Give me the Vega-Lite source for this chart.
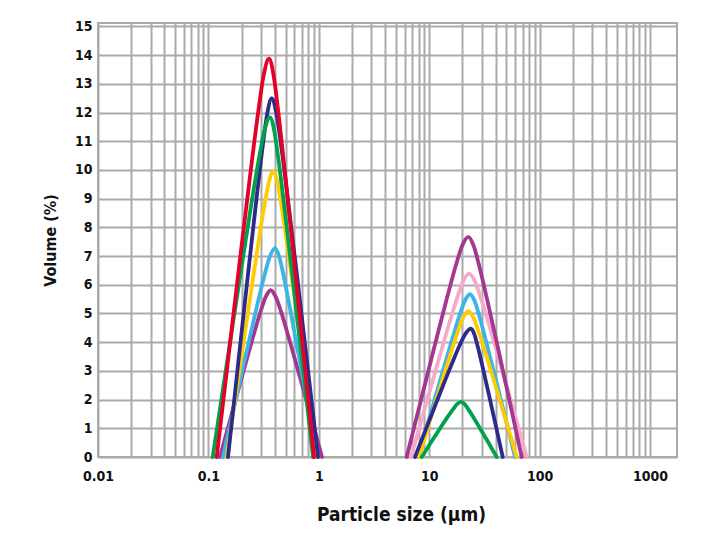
{
  "$schema": "https://vega.github.io/schema/vega-lite/v6.json",
  "width": 579,
  "height": 434,
  "autosize": {"type": "none"},
  "padding": {"left": 98, "top": 23, "right": 49, "bottom": 98},
  "background": "white",
  "config": {
    "view": {"stroke": "#aaaaaa", "strokeWidth": 2},
    "font": "DejaVu Sans Condensed"
  },
  "data": {"values": [
    {"series":"S7","peak":2,"size":6.842,"volume":0},{"series":"S7","peak":2,"size":7.722,"volume":0.71},{"series":"S7","peak":2,"size":9.258,"volume":1.78},{"series":"S7","peak":2,"size":11.79,"volume":3.20},{"series":"S7","peak":2,"size":15.02,"volume":4.59},{"series":"S7","peak":2,"size":18.01,"volume":5.57},{"series":"S7","peak":2,"size":20.33,"volume":6.13},{"series":"S7","peak":2,"size":22.94,"volume":6.39},{"series":"S7","peak":2,"size":25.87,"volume":6.13},{"series":"S7","peak":2,"size":29.18,"volume":5.57},{"series":"S7","peak":2,"size":34.96,"volume":4.59},{"series":"S7","peak":2,"size":44.47,"volume":3.20},{"series":"S7","peak":2,"size":56.57,"volume":1.78},{"series":"S7","peak":2,"size":67.76,"volume":0.71},{"series":"S7","peak":2,"size":76.42,"volume":0},

    {"series":"S6","peak":1,"size":0.1274,"volume":0},{"series":"S6","peak":1,"size":0.1416,"volume":0.65},{"series":"S6","peak":1,"size":0.1659,"volume":1.62},{"series":"S6","peak":1,"size":0.2050,"volume":2.91},{"series":"S6","peak":1,"size":0.2533,"volume":4.17},{"series":"S6","peak":1,"size":0.2968,"volume":5.07},{"series":"S6","peak":1,"size":0.3299,"volume":5.57},{"series":"S6","peak":1,"size":0.3667,"volume":5.81},{"series":"S6","peak":1,"size":0.4081,"volume":5.57},{"series":"S6","peak":1,"size":0.4542,"volume":5.07},{"series":"S6","peak":1,"size":0.5334,"volume":4.17},{"series":"S6","peak":1,"size":0.6606,"volume":2.91},{"series":"S6","peak":1,"size":0.8183,"volume":1.62},{"series":"S6","peak":1,"size":0.9607,"volume":0.65},{"series":"S6","peak":1,"size":1.0691,"volume":0},
    {"series":"S6","peak":2,"size":6.255,"volume":0},{"series":"S6","peak":2,"size":7.113,"volume":0.86},{"series":"S6","peak":2,"size":8.625,"volume":2.14},{"series":"S6","peak":2,"size":11.15,"volume":3.84},{"series":"S6","peak":2,"size":14.42,"volume":5.51},{"series":"S6","peak":2,"size":17.48,"volume":6.69},{"series":"S6","peak":2,"size":19.88,"volume":7.36},{"series":"S6","peak":2,"size":22.60,"volume":7.67},{"series":"S6","peak":2,"size":25.27,"volume":7.36},{"series":"S6","peak":2,"size":28.25,"volume":6.69},{"series":"S6","peak":2,"size":33.38,"volume":5.51},{"series":"S6","peak":2,"size":41.71,"volume":3.84},{"series":"S6","peak":2,"size":52.12,"volume":2.14},{"series":"S6","peak":2,"size":61.59,"volume":0.86},{"series":"S6","peak":2,"size":68.85,"volume":0},

    {"series":"S5","peak":1,"size":0.1356,"volume":0},{"series":"S5","peak":1,"size":0.1511,"volume":0.81},{"series":"S5","peak":1,"size":0.1778,"volume":2.03},{"series":"S5","peak":1,"size":0.2209,"volume":3.65},{"series":"S5","peak":1,"size":0.2744,"volume":5.23},{"series":"S5","peak":1,"size":0.3229,"volume":6.35},{"series":"S5","peak":1,"size":0.3599,"volume":6.98},{"series":"S5","peak":1,"size":0.4011,"volume":7.28},{"series":"S5","peak":1,"size":0.4378,"volume":6.98},{"series":"S5","peak":1,"size":0.4779,"volume":6.35},{"series":"S5","peak":1,"size":0.5450,"volume":5.23},{"series":"S5","peak":1,"size":0.6495,"volume":3.65},{"series":"S5","peak":1,"size":0.7738,"volume":2.03},{"series":"S5","peak":1,"size":0.8824,"volume":0.81},{"series":"S5","peak":1,"size":0.9632,"volume":0},
    {"series":"S5","peak":2,"size":7.967,"volume":0},{"series":"S5","peak":2,"size":8.874,"volume":0.63},{"series":"S5","peak":2,"size":10.43,"volume":1.58},{"series":"S5","peak":2,"size":12.94,"volume":2.84},{"series":"S5","peak":2,"size":16.06,"volume":4.07},{"series":"S5","peak":2,"size":18.88,"volume":4.95},{"series":"S5","peak":2,"size":21.03,"volume":5.44},{"series":"S5","peak":2,"size":23.42,"volume":5.67},{"series":"S5","peak":2,"size":25.73,"volume":5.44},{"series":"S5","peak":2,"size":28.26,"volume":4.95},{"series":"S5","peak":2,"size":32.53,"volume":4.07},{"series":"S5","peak":2,"size":39.24,"volume":2.84},{"series":"S5","peak":2,"size":47.35,"volume":1.58},{"series":"S5","peak":2,"size":54.50,"volume":0.63},{"series":"S5","peak":2,"size":59.87,"volume":0},

    {"series":"S4","peak":1,"size":0.1465,"volume":0},{"series":"S4","peak":1,"size":0.1614,"volume":1.11},{"series":"S4","peak":1,"size":0.1868,"volume":2.78},{"series":"S4","peak":1,"size":0.2268,"volume":4.98},{"series":"S4","peak":1,"size":0.2756,"volume":7.15},{"series":"S4","peak":1,"size":0.3187,"volume":8.68},{"series":"S4","peak":1,"size":0.3513,"volume":9.54},{"series":"S4","peak":1,"size":0.3871,"volume":9.95},{"series":"S4","peak":1,"size":0.4232,"volume":9.54},{"series":"S4","peak":1,"size":0.4626,"volume":8.68},{"series":"S4","peak":1,"size":0.5288,"volume":7.15},{"series":"S4","peak":1,"size":0.6319,"volume":4.98},{"series":"S4","peak":1,"size":0.7552,"volume":2.78},{"series":"S4","peak":1,"size":0.8630,"volume":1.11},{"series":"S4","peak":1,"size":0.9434,"volume":0},
    {"series":"S4","peak":2,"size":8.084,"volume":0},{"series":"S4","peak":2,"size":8.960,"volume":0.57},{"series":"S4","peak":2,"size":10.46,"volume":1.42},{"series":"S4","peak":2,"size":12.84,"volume":2.54},{"series":"S4","peak":2,"size":15.78,"volume":3.65},{"series":"S4","peak":2,"size":18.40,"volume":4.43},{"series":"S4","peak":2,"size":20.40,"volume":4.87},{"series":"S4","peak":2,"size":22.60,"volume":5.08},{"series":"S4","peak":2,"size":25.01,"volume":4.87},{"series":"S4","peak":2,"size":27.66,"volume":4.43},{"series":"S4","peak":2,"size":32.19,"volume":3.65},{"series":"S4","peak":2,"size":39.39,"volume":2.54},{"series":"S4","peak":2,"size":48.20,"volume":1.42},{"series":"S4","peak":2,"size":56.08,"volume":0.57},{"series":"S4","peak":2,"size":62.04,"volume":0},

    {"series":"S2","peak":1,"size":0.1505,"volume":0},{"series":"S2","peak":1,"size":0.1650,"volume":1.40},{"series":"S2","peak":1,"size":0.1889,"volume":3.49},{"series":"S2","peak":1,"size":0.2268,"volume":6.26},{"series":"S2","peak":1,"size":0.2722,"volume":8.97},{"series":"S2","peak":1,"size":0.3120,"volume":10.90},{"series":"S2","peak":1,"size":0.3418,"volume":11.98},{"series":"S2","peak":1,"size":0.3745,"volume":12.49},{"series":"S2","peak":1,"size":0.4124,"volume":11.98},{"series":"S2","peak":1,"size":0.4542,"volume":10.90},{"series":"S2","peak":1,"size":0.5250,"volume":8.97},{"series":"S2","peak":1,"size":0.6373,"volume":6.26},{"series":"S2","peak":1,"size":0.7722,"volume":3.49},{"series":"S2","peak":1,"size":0.8936,"volume":1.40},{"series":"S2","peak":1,"size":0.9834,"volume":0},
    {"series":"S2","peak":2,"size":7.438,"volume":0},{"series":"S2","peak":2,"size":8.359,"volume":0.50},{"series":"S2","peak":2,"size":9.960,"volume":1.25},{"series":"S2","peak":2,"size":12.58,"volume":2.24},{"series":"S2","peak":2,"size":15.89,"volume":3.21},{"series":"S2","peak":2,"size":18.93,"volume":3.90},{"series":"S2","peak":2,"size":21.28,"volume":4.29},{"series":"S2","peak":2,"size":23.92,"volume":4.47},{"series":"S2","peak":2,"size":25.55,"volume":4.29},{"series":"S2","peak":2,"size":27.30,"volume":3.90},{"series":"S2","peak":2,"size":30.15,"volume":3.21},{"series":"S2","peak":2,"size":34.41,"volume":2.24},{"series":"S2","peak":2,"size":39.27,"volume":1.25},{"series":"S2","peak":2,"size":43.36,"volume":0.50},{"series":"S2","peak":2,"size":46.33,"volume":0},

    {"series":"S3","peak":1,"size":0.1094,"volume":0},{"series":"S3","peak":1,"size":0.1233,"volume":1.32},{"series":"S3","peak":1,"size":0.1474,"volume":3.30},{"series":"S3","peak":1,"size":0.1873,"volume":5.92},{"series":"S3","peak":1,"size":0.2378,"volume":8.50},{"series":"S3","peak":1,"size":0.2846,"volume":10.32},{"series":"S3","peak":1,"size":0.3207,"volume":11.35},{"series":"S3","peak":1,"size":0.3614,"volume":11.83},{"series":"S3","peak":1,"size":0.3953,"volume":11.35},{"series":"S3","peak":1,"size":0.4324,"volume":10.32},{"series":"S3","peak":1,"size":0.4947,"volume":8.50},{"series":"S3","peak":1,"size":0.5919,"volume":5.92},{"series":"S3","peak":1,"size":0.7081,"volume":3.30},{"series":"S3","peak":1,"size":0.8101,"volume":1.32},{"series":"S3","peak":1,"size":0.8861,"volume":0},
    {"series":"S3","peak":2,"size":8.553,"volume":0},{"series":"S3","peak":2,"size":9.283,"volume":0.21},{"series":"S3","peak":2,"size":10.50,"volume":0.54},{"series":"S3","peak":2,"size":12.37,"volume":0.96},{"series":"S3","peak":2,"size":14.57,"volume":1.38},{"series":"S3","peak":2,"size":16.48,"volume":1.67},{"series":"S3","peak":2,"size":17.89,"volume":1.84},{"series":"S3","peak":2,"size":19.41,"volume":1.92},{"series":"S3","peak":2,"size":20.91,"volume":1.84},{"series":"S3","peak":2,"size":22.53,"volume":1.67},{"series":"S3","peak":2,"size":25.19,"volume":1.38},{"series":"S3","peak":2,"size":29.24,"volume":0.96},{"series":"S3","peak":2,"size":33.94,"volume":0.54},{"series":"S3","peak":2,"size":37.95,"volume":0.21},{"series":"S3","peak":2,"size":40.88,"volume":0},

    {"series":"S1","peak":1,"size":0.1189,"volume":0},{"series":"S1","peak":1,"size":0.1326,"volume":1.55},{"series":"S1","peak":1,"size":0.1562,"volume":3.88},{"series":"S1","peak":1,"size":0.1941,"volume":6.95},{"series":"S1","peak":1,"size":0.2416,"volume":9.97},{"series":"S1","peak":1,"size":0.2846,"volume":12.11},{"series":"S1","peak":1,"size":0.3173,"volume":13.31},{"series":"S1","peak":1,"size":0.3539,"volume":13.88},{"series":"S1","peak":1,"size":0.3889,"volume":13.31},{"series":"S1","peak":1,"size":0.4271,"volume":12.11},{"series":"S1","peak":1,"size":0.4916,"volume":9.97},{"series":"S1","peak":1,"size":0.5931,"volume":6.95},{"series":"S1","peak":1,"size":0.7155,"volume":3.88},{"series":"S1","peak":1,"size":0.8241,"volume":1.55},{"series":"S1","peak":1,"size":0.9050,"volume":0}
  ]},
  "mark": {"type": "line", "interpolate": "monotone", "strokeWidth": 3.8, "strokeCap": "round", "strokeJoin": "round"},
  "encoding": {
    "x": {
      "field": "size", "type": "quantitative",
      "scale": {"type": "log", "domain": [0.01, 1756], "nice": false},
      "axis": {
        "values": [0.01,0.02,0.03,0.04,0.05,0.06,0.07,0.08,0.09,0.1,0.2,0.3,0.4,0.5,0.6,0.7,0.8,0.9,1,2,3,4,5,6,7,8,9,10,20,30,40,50,60,70,80,90,100,200,300,400,500,600,700,800,900,1000],
        "labelExpr": "indexof([0.01,0.1,1,10,100,1000], datum.value) >= 0 ? format(datum.value, '~g') : ''",
        "labelOverlap": false, "labelFlush": false, "labelBound": false,
        "grid": true, "gridColor": "#aaaaaa", "gridWidth": 2,
        "ticks": false, "domain": false,
        "labelFontSize": 14, "labelFontWeight": "bold", "labelColor": "#111111", "labelPadding": 12,
        "title": "Particle size (μm)", "titleFontSize": 19, "titleFontWeight": "bold", "titleColor": "#111111", "titlePadding": 22, "titleX": 303
      }
    },
    "y": {
      "field": "volume", "type": "quantitative",
      "scale": {"domain": [0, 15.12], "nice": false},
      "axis": {
        "values": [0,1,2,3,4,5,6,7,8,9,10,11,12,13,14,15],
        "grid": true, "gridColor": "#aaaaaa", "gridWidth": 2,
        "ticks": false, "domain": false,
        "labelFontSize": 14, "labelFontWeight": "bold", "labelColor": "#111111", "labelPadding": 6,
        "title": "Volume (%)", "titleFontSize": 16, "titleFontWeight": "bold", "titleColor": "#111111", "titlePadding": 16
      }
    },
    "color": {
      "field": "series", "type": "nominal",
      "scale": {"domain": ["S1","S2","S3","S4","S5","S6","S7"], "range": ["#e4002b","#2e2a8c","#00a14b","#ffcc00","#3bb4e8","#a4378f","#f6a9c8"]},
      "legend": null
    },
    "detail": {"field": "peak", "type": "nominal"}
  }
}
